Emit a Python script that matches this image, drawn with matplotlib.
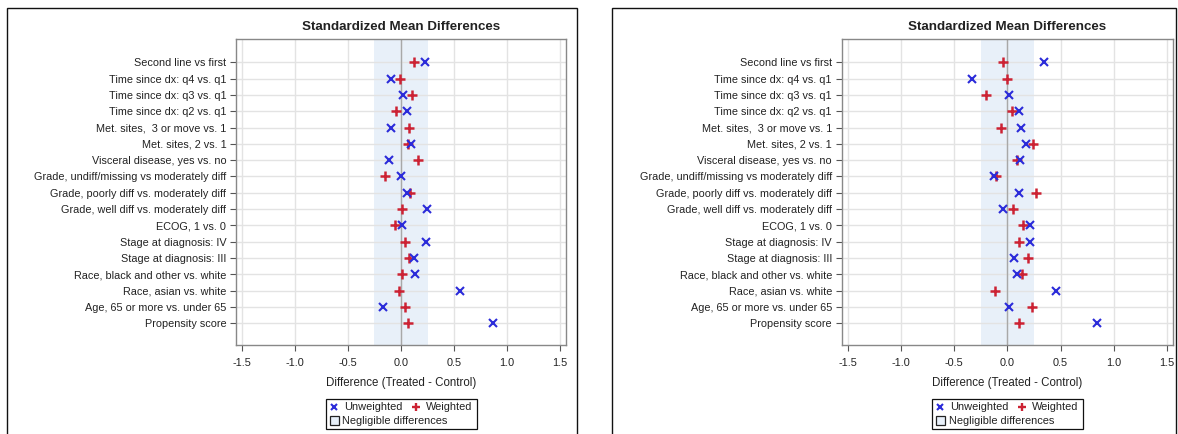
import matplotlib
matplotlib.use("Agg")
import matplotlib.pyplot as plt
from matplotlib.patches import Rectangle
from matplotlib.lines import Line2D

plt.rcParams['font.family'] = ['Liberation Sans', 'DejaVu Sans']
plt.rcParams['axes.unicode_minus'] = False

# Covariates, listed top to bottom
covariates = [
    "Second line vs first",
    "Time since dx: q4 vs. q1",
    "Time since dx: q3 vs. q1",
    "Time since dx: q2 vs. q1",
    "Met. sites,  3 or move vs. 1",
    "Met. sites, 2 vs. 1",
    "Visceral disease, yes vs. no",
    "Grade, undiff/missing vs moderately diff",
    "Grade, poorly diff vs. moderately diff",
    "Grade, well diff vs. moderately diff",
    "ECOG, 1 vs. 0",
    "Stage at diagnosis: IV",
    "Stage at diagnosis: III",
    "Race, black and other vs. white",
    "Race, asian vs. white",
    "Age, 65 or more vs. under 65",
    "Propensity score",
]

# Panel 1: standardized mean differences
left_unweighted = [0.226, -0.094, 0.022, 0.057, -0.094, 0.094, -0.116, -0.003,
                   0.057, 0.245, 0.006, 0.236, 0.123, 0.135, 0.560, -0.170, 0.871]
left_weighted = [0.123, -0.009, 0.104, -0.044, 0.075, 0.069, 0.160, -0.154,
                 0.088, 0.006, -0.053, 0.038, 0.072, 0.006, -0.019, 0.038, 0.066]

# Panel 2: standardized mean differences
right_unweighted = [0.345, -0.329, 0.019, 0.110, 0.126, 0.176, 0.116, -0.122,
                    0.110, -0.043, 0.210, 0.210, 0.066, 0.091, 0.454, 0.016, 0.845]
right_weighted = [-0.043, -0.006, -0.203, 0.041, -0.059, 0.244, 0.088, -0.109,
                  0.272, 0.056, 0.147, 0.110, 0.197, 0.138, -0.118, 0.235, 0.110]

x_ticks = [-1.5, -1.0, -0.5, 0.0, 0.5, 1.0, 1.5]
negligible = 0.25

W, H = 1178, 434
fig = plt.figure(figsize=(W / 100, H / 100), dpi=100)
fig.patch.set_facecolor("white")

BLUE = "#2b2bd9"
RED = "#cc2233"
BAND = "#e8f0f9"
GRID = "#e3e3e3"
TEXT = "#222222"


def px_rect(x0, y0, x1, y1):
    """Figure-fraction rectangle from pixel coords (y measured from top)."""
    return [x0 / W, 1 - y1 / H, (x1 - x0) / W, (y1 - y0) / H]


def panel(frame_x0, frame_x1, ax_x0, ax_x1, unw, wtd):
    # outer frame of the graph
    fig.add_artist(Rectangle((frame_x0 / W, -0.05), (frame_x1 - frame_x0) / W,
                             1.05 - 8 / H, transform=fig.transFigure,
                             fill=False, edgecolor="#111111", lw=1.0))

    ax = fig.add_axes(px_rect(ax_x0, 38.5, ax_x1, 345))
    n = len(covariates)
    ypos = list(range(n))
    ax.set_xlim(-1.556, 1.556)
    ax.set_ylim(n - 1 + 1.33, -1.46)

    ax.axvspan(-negligible, negligible, color=BAND, zorder=0, lw=0)
    ax.set_xticks(x_ticks)
    ax.set_xticklabels([f"{t:.1f}" for t in x_ticks])
    ax.set_yticks(ypos)
    ax.set_yticklabels(covariates)
    ax.grid(True, color=GRID, lw=1.0, zorder=1)
    ax.set_axisbelow(True)
    ax.axvline(0, color="#a8a8a8", lw=1.0, zorder=2)

    ax.plot(unw, ypos, ls="none", marker="x", ms=5.5, mew=1.5, color=BLUE, zorder=4)
    ax.plot(wtd, ypos, ls="none", marker="+", ms=6.5, mew=1.8, color=RED, zorder=3)

    for s in ax.spines.values():
        s.set_color("#888888")
        s.set_linewidth(1.0)
    ax.tick_params(axis="both", colors="#555555", labelcolor=TEXT, labelsize=7.8,
                   length=4, width=0.8, direction="out")
    ax.tick_params(axis="x", pad=5.5)
    ax.tick_params(axis="y", pad=3)

    ax.set_xlabel("Difference (Treated - Control)", fontsize=8.3, color=TEXT, labelpad=6)
    ax.set_title("Standardized Mean Differences", fontsize=9.6, fontweight="bold",
                 color=TEXT, pad=6)

    # legend box below the axis
    cx = (ax_x0 + ax_x1) / 2
    bx0, bx1 = cx - 75.5, cx + 75.5
    fig.add_artist(Rectangle((bx0 / W, 1 - 429 / H), (bx1 - bx0) / W, 30 / H,
                             transform=fig.transFigure, fill=False,
                             edgecolor="#111111", lw=0.9))
    r1, r2 = 406.7, 420.7
    fig.add_artist(Line2D([(bx0 + 8.6) / W], [1 - r1 / H], marker="x", ms=5,
                          mew=1.5, color=BLUE, transform=fig.transFigure))
    fig.text((bx0 + 18.6) / W, 1 - r1 / H, "Unweighted", fontsize=7.9,
             color=TEXT, va="center", ha="left")
    fig.add_artist(Line2D([(bx0 + 90) / W], [1 - r1 / H], marker="+", ms=6,
                          mew=1.7, color=RED, transform=fig.transFigure))
    fig.text((bx0 + 100) / W, 1 - r1 / H, "Weighted", fontsize=7.9,
             color=TEXT, va="center", ha="left")
    fig.add_artist(Rectangle(((bx0 + 4) / W, 1 - (r2 + 4.5) / H), 9 / W, 9 / H,
                             transform=fig.transFigure, facecolor=BAND,
                             edgecolor="#222222", lw=0.9))
    fig.text((bx0 + 17) / W, 1 - r2 / H, "Negligible differences", fontsize=7.9,
             color=TEXT, va="center", ha="left")
    return ax


panel(7, 577, 236, 566, left_unweighted, left_weighted)
panel(612, 1176, 841.6, 1173, right_unweighted, right_weighted)

fig.savefig("out.png", dpi=100, facecolor="white")
